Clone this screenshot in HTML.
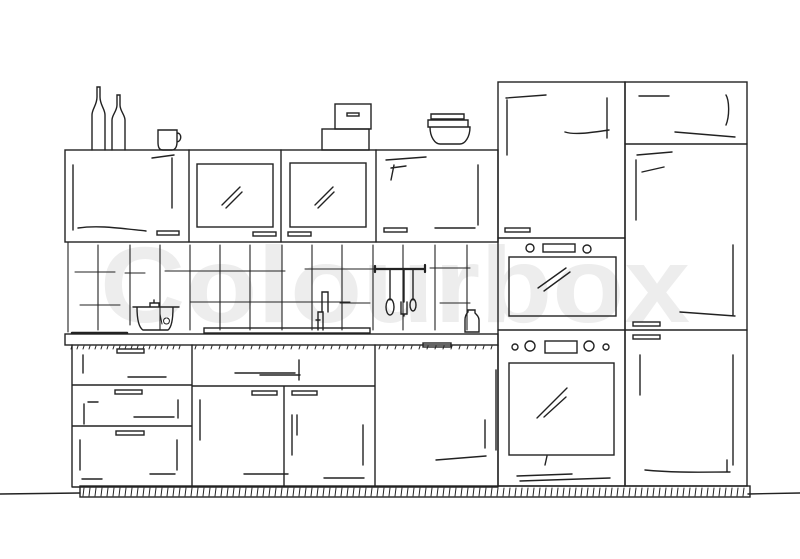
<!DOCTYPE html>
<html><head><style>html,body{margin:0;padding:0;background:#fff}svg{display:block}</style></head>
<body>
<svg width="800" height="559" viewBox="0 0 800 559" xmlns="http://www.w3.org/2000/svg">
<text x="100" y="322" font-family="Liberation Sans, sans-serif" font-weight="bold" font-size="108" fill="#ededed" textLength="590" lengthAdjust="spacingAndGlyphs">Colourbox</text>
<g fill="none" stroke="#222" stroke-width="1.4" stroke-linecap="round">
<!-- floor lines -->
<line x1="0" y1="494" x2="80" y2="493"/>
<line x1="748" y1="494" x2="800" y2="493"/>
<!-- plinth -->
<rect x="80" y="486" width="670" height="11"/>
<path d="M84 488l-1 8M90 488l-1 8M96 488l-1 8M102 488l-1 8M108 488l-1 8M114 488l-1 8M120 488l-1 8M126 488l-1 8M132 488l-1 8M138 488l-1 8M144 488l-1 8M150 488l-1 8M156 488l-1 8M162 488l-1 8M168 488l-1 8M174 488l-1 8M180 488l-1 8M186 488l-1 8M192 488l-1 8M198 488l-1 8M204 488l-1 8M210 488l-1 8M216 488l-1 8M222 488l-1 8M228 488l-1 8M234 488l-1 8M240 488l-1 8M246 488l-1 8M252 488l-1 8M258 488l-1 8M264 488l-1 8M270 488l-1 8M276 488l-1 8M282 488l-1 8M288 488l-1 8M294 488l-1 8M300 488l-1 8M306 488l-1 8M312 488l-1 8M318 488l-1 8M324 488l-1 8M330 488l-1 8M336 488l-1 8M342 488l-1 8M348 488l-1 8M354 488l-1 8M360 488l-1 8M366 488l-1 8M372 488l-1 8M378 488l-1 8M384 488l-1 8M390 488l-1 8M396 488l-1 8M402 488l-1 8M408 488l-1 8M414 488l-1 8M420 488l-1 8M426 488l-1 8M432 488l-1 8M438 488l-1 8M444 488l-1 8M450 488l-1 8M456 488l-1 8M462 488l-1 8M468 488l-1 8M474 488l-1 8M480 488l-1 8M486 488l-1 8M492 488l-1 8M498 488l-1 8M504 488l-1 8M510 488l-1 8M516 488l-1 8M522 488l-1 8M528 488l-1 8M534 488l-1 8M540 488l-1 8M546 488l-1 8M552 488l-1 8M558 488l-1 8M564 488l-1 8M570 488l-1 8M576 488l-1 8M582 488l-1 8M588 488l-1 8M594 488l-1 8M600 488l-1 8M606 488l-1 8M612 488l-1 8M618 488l-1 8M624 488l-1 8M630 488l-1 8M636 488l-1 8M642 488l-1 8M648 488l-1 8M654 488l-1 8M660 488l-1 8M666 488l-1 8M672 488l-1 8M678 488l-1 8M684 488l-1 8M690 488l-1 8M696 488l-1 8M702 488l-1 8M708 488l-1 8M714 488l-1 8M720 488l-1 8M726 488l-1 8M732 488l-1 8M738 488l-1 8M744 488l-1 8" stroke-width="1"/>
<!-- upper cabinets -->
<rect x="65" y="150" width="433" height="92"/>
<line x1="189" y1="150" x2="189" y2="242"/>
<line x1="281" y1="150" x2="281" y2="242"/>
<line x1="376" y1="150" x2="376" y2="242"/>
<rect x="197" y="164" width="76" height="63"/>
<rect x="290" y="163" width="76" height="64"/>
<path d="M222 205l18-18M226 208l16-16M315 205l18-18M318 208l16-16"/>
<rect x="157" y="231" width="22" height="4"/><rect x="253" y="232" width="23" height="4"/><rect x="288" y="232" width="23" height="4"/><rect x="384" y="228" width="23" height="4"/>
<path d="M73 165v65M78 228c20-3 40 0 68 3M152 158l22-3M172 158v50M394 165l-3 15M386 160l40-3M391 168l15-2M478 165v60M435 228l40 0"/>
<!-- tiles -->
<path d="M68 242v90M98 245v85M130 245v80M160 245v85M190 245v85M220 245v85M250 245v85M282 245v85M312 245v85M342 245v85M373 245v85M403 245v85M435 245v85M467 245v85" stroke-width="1.1"/>
<path d="M75 272h40M125 273h20M165 271h120M305 269h110M430 268h40M80 305h40M190 302h160M340 303h30M440 303h30" stroke-width="1.1"/>
<!-- rail & utensils -->
<path d="M375 269h50M375 266v6M425 265v7" stroke-width="2.2"/>
<path d="M390 270v30M404 270v32M413 270v30"/>
<ellipse cx="390" cy="307" rx="4" ry="8"/><path d="M401 302v12h6v-12M404 314v2"/><ellipse cx="413" cy="305" rx="3" ry="6"/>
<!-- bottle on counter -->
<path d="M468 312c-3 3-3 6-3 8v12h14v-12c0-3-2-5-4-7v-3h-7z"/>
<!-- faucet -->
<path d="M318 330v-18h5v18M322 312v-20h6v20M316 320h4"/>
<!-- pot -->
<path d="M133 307h46M137 307c0 10 1 20 6 23h25c4-3 5-12 5-23M150 307v-4h9v4M154 303v-3"/>
<path d="M160 314l2 10M166 318a3 3 0 1 0 1 0" stroke-width="1"/>
<!-- sink -->
<rect x="204" y="328" width="166" height="5"/>
<!-- counter -->
<rect x="65" y="334" width="433" height="11"/>
<path d="M72 333h55" stroke-width="2.5"/>
<path d="M72 346l-1 3M78 346l-1 3M84 346l-1 3M90 346l-1 3M96 346l-1 3M102 346l-1 3M108 346l-1 3M114 346l-1 3M120 346l-1 3M126 346l-1 3M132 346l-1 3M138 346l-1 3M144 346l-1 3M150 346l-1 3M156 346l-1 3M162 346l-1 3M168 346l-1 3M174 346l-1 3M180 346l-1 3M196 346l-1 3M204 346l-1 3M212 346l-1 3M220 346l-1 3M228 346l-1 3M236 346l-1 3M244 346l-1 3M252 346l-1 3M260 346l-1 3M268 346l-1 3M276 346l-1 3M284 346l-1 3M292 346l-1 3M300 346l-1 3M308 346l-1 3M316 346l-1 3M324 346l-1 3M332 346l-1 3M340 346l-1 3M348 346l-1 3M356 346l-1 3M364 346l-1 3M380 346l-1 3M388 346l-1 3M396 346l-1 3M404 346l-1 3M412 346l-1 3M420 346l-1 3M428 346l-1 3M436 346l-1 3M444 346l-1 3M452 346l-1 3M460 346l-1 3M468 346l-1 3M476 346l-1 3M484 346l-1 3M492 346l-1 3" stroke-width="1"/>
<!-- base cabinets -->
<path d="M72 345v142M498 345v142M72 487h426M192 345v142M284 386v101M375 345v142M72 385h120M72 426h120M192 386h183"/>
<rect x="117" y="349" width="27" height="4"/><rect x="115" y="390" width="27" height="4"/><rect x="116" y="431" width="28" height="4"/>
<rect x="252" y="391" width="25" height="4"/><rect x="292" y="391" width="25" height="4"/><rect x="423" y="343" width="28" height="4"/>
<path d="M83 355v18M128 377h38M88 402h10M84 404v20M134 417h40M178 400v18M80 440v30M82 479h20M150 474h25M177 440v30M200 400v40M235 373h60M260 375h40M299 360v20M244 474h44M292 415v40M297 415v20M324 478h40M363 425v40M436 460l50-4M485 420v28M496 370v80"/>
<!-- tall left -->
<rect x="498" y="82" width="127" height="404"/>
<line x1="498" y1="238" x2="625" y2="238"/>
<line x1="498" y1="330" x2="625" y2="330"/>
<rect x="505" y="228" width="25" height="4"/>
<circle cx="530" cy="248" r="4"/><circle cx="587" cy="249" r="4"/><rect x="543" y="244" width="32" height="8"/>
<rect x="509" y="257" width="107" height="59"/>
<path d="M538 288l28-20M544 291l26-19"/>
<circle cx="515" cy="347" r="3"/><circle cx="530" cy="346" r="5"/><rect x="545" y="341" width="32" height="12"/><circle cx="589" cy="346" r="5"/><circle cx="606" cy="347" r="3"/>
<rect x="509" y="363" width="105" height="92"/>
<path d="M537 418l30-30M544 417l22-20"/>
<path d="M506 98l40-3M507 100v55M607 98v40M609 130c-20 3-35 5-44 2M517 476l55-2M520 481l90-3M545 465l2-9"/>
<!-- tall right -->
<rect x="625" y="82" width="122" height="404"/>
<line x1="625" y1="144" x2="747" y2="144"/>
<line x1="625" y1="330" x2="747" y2="330"/>
<rect x="633" y="322" width="27" height="4"/><rect x="633" y="335" width="27" height="4"/>
<path d="M639 96h30M726 95c3 5 4 20 0 30M675 132l60 5M637 155l35-3M636 160v60M642 172l22-5M733 245v70M680 312l55 4M640 355v40M733 355v110M645 470c30 3 60 2 85 2M727 460v12"/>
<!-- shelf items -->
<path d="M92 150v-35c0-6 5-10 5-18v-10h3v10c0 8 5 12 5 18v35"/>
<path d="M112 150v-30c0-5 5-9 5-15v-10h3v10c0 6 5 10 5 15v30"/>
<path d="M158 130h19v12c0 5-2 8-5 8h-9c-4 0-5-3-5-8z M177 133c5 0 5 8 0 9"/>
<rect x="335" y="104" width="36" height="25"/><rect x="322" y="129" width="47" height="21"/><rect x="347" y="113" width="12" height="3"/>
<path d="M431 114h33v5h-33zM428 120h40v7h-40zM430 127h40c0 10-5 17-10 17h-20c-5 0-10-7-10-17z"/>
</g>
</svg>
</body></html>
